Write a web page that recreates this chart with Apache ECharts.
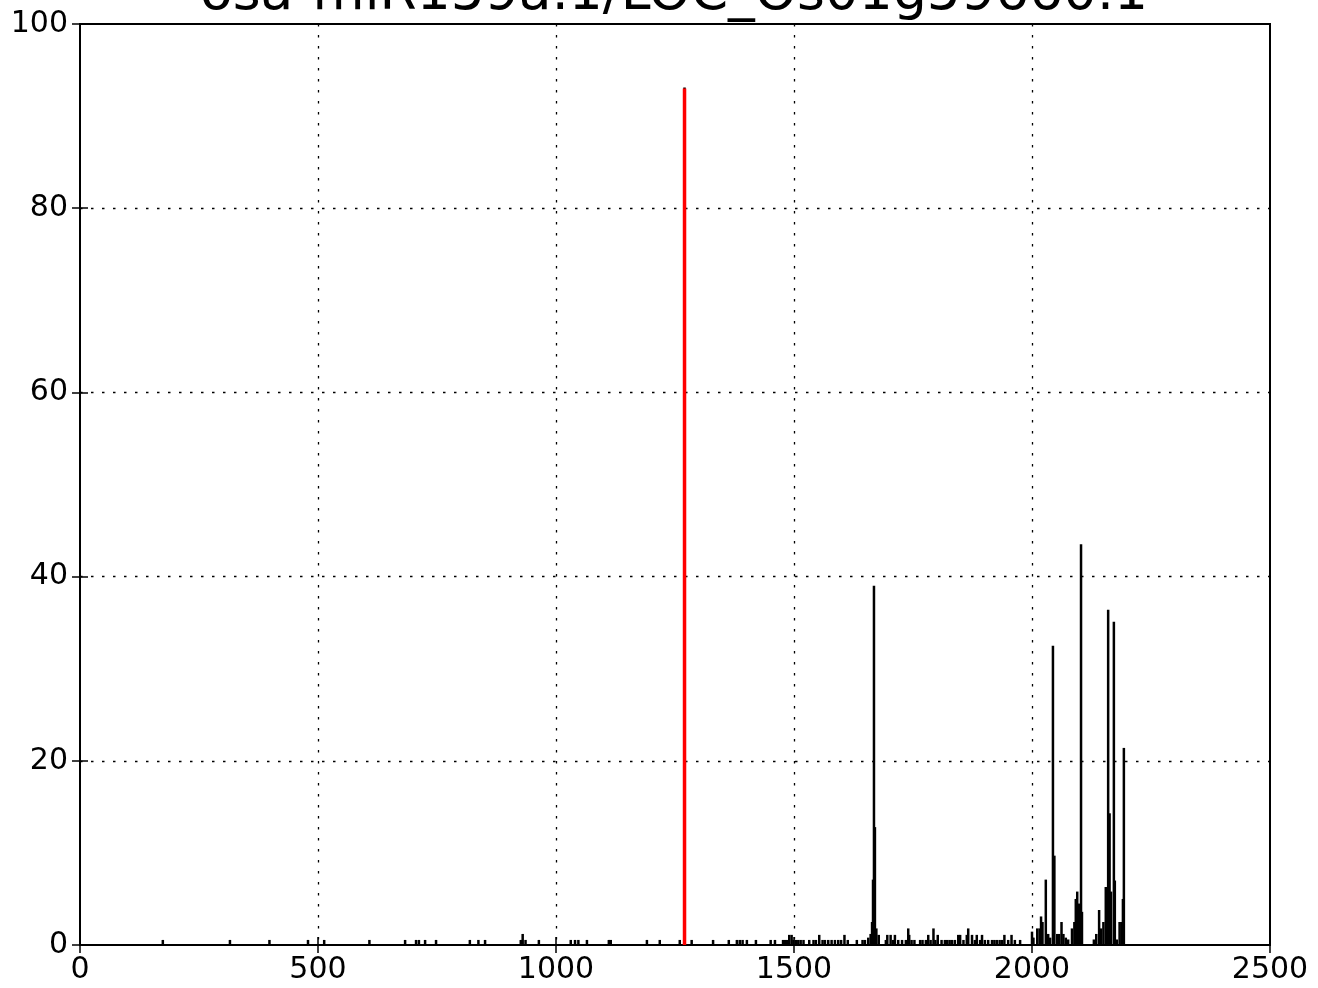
<!DOCTYPE html>
<html>
<head>
<meta charset="utf-8">
<script src="https://cdn.jsdelivr.net/npm/echarts@6/dist/echarts.min.js"></script>
<style>
html,body{margin:0;padding:0;background:#fff;}
#chart{width:1318px;height:988px;}
</style>
</head>
<body>
<div id="chart"></div>
<script>
const titleText = 'osa-miR159a.1/LOC_Os01g59660.1';
const xTicks = [0, 500, 1000, 1500, 2000, 2500];
const yTicks = [0, 20, 40, 60, 80, 100];

// black peaks: [position, value]
const blackPeaks = [
  [174,0.55],[315,0.55],[398,0.55],[479,0.55],[513,0.55],[608,0.55],[683,0.55],[706,0.55],[712,0.55],
  [725,0.55],[748,0.55],[819,0.55],[837,0.55],[851,0.55],[926,0.55],[930,1.2],[936,0.55],[964,0.55],
  [1031,0.55],[1040,0.55],[1047,0.55],[1065,0.55],[1111,0.55],[1115,0.55],[1191,0.55],[1218,0.55],
  [1260,0.55],[1270,93.1],[1285,0.55],[1330,0.55],[1363,0.55],[1380,0.55],[1386,0.55],[1392,0.55],
  [1401,0.55],[1420,0.55],[1451,0.55],[1460,0.55],[1477,0.55],[1481,0.55],[1485,0.55],[1490,1.1],
  [1495,1.1],[1499,0.55],[1504,0.55],[1509,0.55],[1514,0.55],[1520,0.55],[1532,0.55],[1541,0.55],
  [1546,0.55],[1553,1.1],[1560,0.55],[1565,0.55],[1572,0.55],[1579,0.55],[1586,0.55],[1593,0.55],
  [1599,0.55],[1606,1.1],[1613,0.55],[1632,0.55],[1644,0.55],[1649,0.55],[1656,0.8],[1661,1.2],
  [1664,2.5],[1666,7.1],[1668,39.0],[1670,12.8],[1673,1.8],[1678,1.1],[1693,0.55],[1696,1.1],
  [1703,1.1],[1708,0.55],[1712,1.1],[1719,0.55],[1727,0.55],[1735,0.55],[1740,1.8],[1742,1.1],
  [1747,0.55],[1753,0.55],[1765,0.55],[1770,0.55],[1777,0.55],[1782,1.1],[1787,0.55],[1793,1.8],
  [1797,0.55],[1802,1.1],[1810,0.55],[1817,0.55],[1822,0.55],[1827,0.55],[1832,0.55],[1838,0.55],
  [1845,1.1],[1849,1.1],[1856,0.55],[1863,1.1],[1866,1.8],[1874,1.1],[1880,0.55],[1884,1.1],
  [1891,0.55],[1895,1.1],[1901,0.55],[1908,0.55],[1916,0.55],[1921,0.55],[1926,0.55],[1932,0.55],
  [1937,0.55],[1942,1.1],[1950,0.55],[1957,1.1],[1964,0.55],[1975,0.55],
  [2000,1.45],[2003,0.8],[2011,1.8],[2016,1.8],[2019,3.1],[2022,2.5],[2029,7.1],[2034,1.2],[2038,0.8],
  [2044,32.5],[2047,9.7],[2053,1.2],[2057,1.2],[2062,2.5],[2066,1.2],[2071,0.8],[2076,0.6],[2084,1.8],
  [2089,2.5],[2092,5.0],[2095,5.8],[2099,4.5],[2103,43.5],[2105,3.6],[2130,0.6],[2135,1.2],[2141,3.8],
  [2145,1.8],[2150,2.5],[2155,6.3],[2160,36.4],[2163,14.3],[2166,5.8],[2172,35.1],[2174,7.0],
  [2178,0.6],[2184,2.5],[2188,2.5],[2191,5.0],[2193,21.4]
];
// highlighted (red) peak
const redPeaks = [[1270,93.0]];

const chart = echarts.init(document.getElementById('chart'), null, {renderer:'canvas'});

function vline(color, width) {
  return function (params, api) {
    const x = api.value(0), y = api.value(1);
    const p0 = api.coord([x, 0]);
    const p1 = api.coord([x, y]);
    return {
      type: 'line',
      shape: {x1: p0[0], y1: p0[1], x2: p1[0], y2: p1[1]},
      style: {stroke: color, lineWidth: width}
    };
  };
}

const FONT = 'DejaVu Sans';
const dotted = {color:'#000', width:1.3, type:[2.5, 8.5]};
const tickStyle = {inside:true, length:8, lineStyle:{color:'#000', width:1.5}};

const option = {
  animation: false,
  backgroundColor: '#fff',
  graphic: [{
    type: 'text',
    x: 674, y: -5,
    z: 100,
    style: {
      text: titleText,
      x: 0, y: 0,
      font: '53.5px "DejaVu Sans"',
      fill: '#000',
      align: 'center',
      verticalAlign: 'middle'
    }
  }],
  grid: {
    left: 80, right: 48, top: 24, bottom: 43,
    show: true, borderColor: '#000', borderWidth: 2, backgroundColor: 'transparent'
  },
  xAxis: [{
    type: 'value', position: 'bottom', min: 0, max: 2500, interval: 500,
    axisLine: {show:false},
    axisTick: tickStyle,
    axisLabel: {color:'#000', fontFamily: FONT, fontSize: 30, margin: 10,
      formatter: v => String(v)},
    splitLine: {show:true, showMinLine:false, showMaxLine:false, lineStyle: dotted}
  }, {
    type: 'value', position: 'top', min: 0, max: 2500, interval: 500,
    axisLine: {show:false}, axisTick: tickStyle, axisLabel: {show:false}, splitLine: {show:false}
  }],
  yAxis: [{
    type: 'value', position: 'left', min: 0, max: 100, interval: 20,
    axisLine: {show:false},
    axisTick: tickStyle,
    axisLabel: {color:'#000', fontFamily: FONT, fontSize: 30, margin: 12,
      formatter: v => String(v)},
    splitLine: {show:true, showMinLine:false, showMaxLine:false, lineStyle: dotted}
  }, {
    type: 'value', position: 'right', min: 0, max: 100, interval: 20,
    axisLine: {show:false}, axisTick: tickStyle, axisLabel: {show:false}, splitLine: {show:false}
  }],
  series: [{
    type: 'custom', name: 'reads',
    xAxisIndex: 0, yAxisIndex: 0,
    renderItem: vline('#000', 2.5),
    encode: {x: 0, y: 1},
    data: blackPeaks, z: 3, clip: true
  }, {
    type: 'custom', name: 'target',
    xAxisIndex: 0, yAxisIndex: 0,
    renderItem: vline('#ff0000', 3.5),
    encode: {x: 0, y: 1},
    data: redPeaks, z: 4, clip: true
  }]
};
chart.setOption(option);
</script>
</body>
</html>
